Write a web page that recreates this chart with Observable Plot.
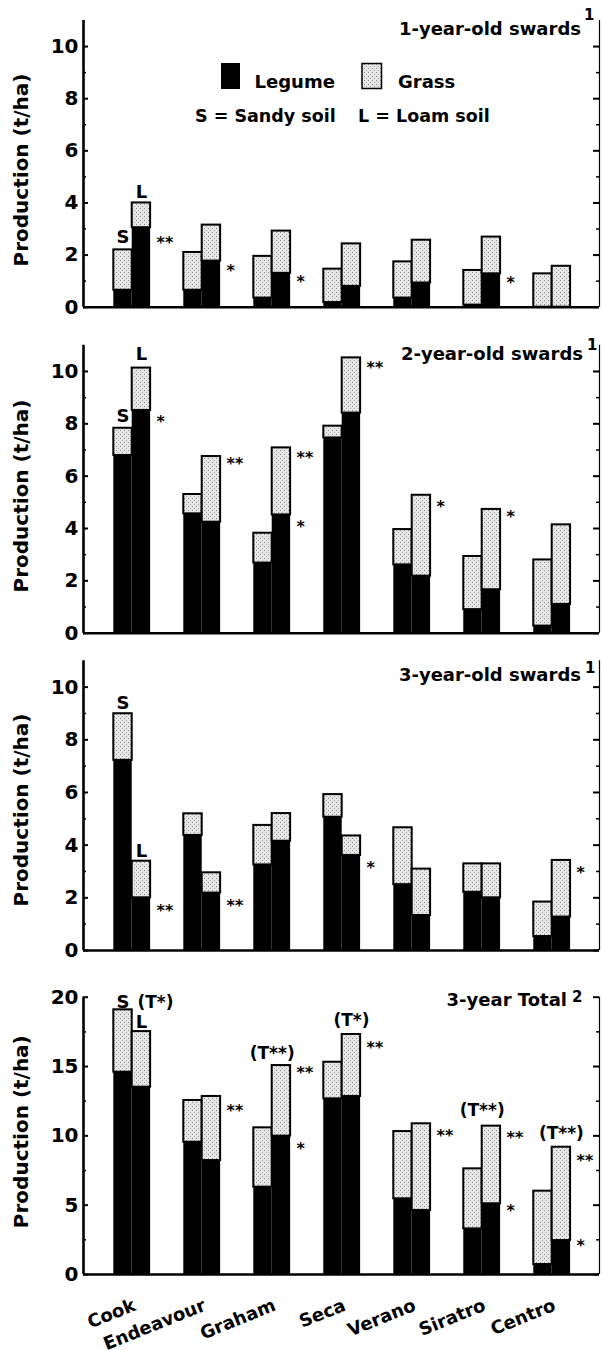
<!DOCTYPE html>
<html>
<head>
<meta charset="utf-8">
<script src="https://cdn.jsdelivr.net/npm/d3@7"></script>
<script src="https://cdn.jsdelivr.net/npm/@observablehq/plot@0.6"></script>
<style>
  body { margin: 0; background: #fff; }
  #chart { position: relative; width: 603px; height: 1350px; }
  #chart svg { display: block; overflow: visible; }
</style>
</head>
<body>
<svg width="0" height="0" style="position:absolute">
  <defs>
    <!-- light stipple used for the grass fraction -->
    <pattern id="stipple" width="4" height="4" patternUnits="userSpaceOnUse">
      <rect width="4" height="4" fill="#e6e6e6"></rect>
      <rect x="0" y="0" width="1" height="1" fill="#8c8c8c"></rect>
      <rect x="2" y="2" width="1" height="1" fill="#a8a8a8"></rect>
    </pattern>
  </defs>
</svg>
<div id="chart"></div>
<script>
const varieties = ["Cook", "Endeavour", "Graham", "Seca", "Verano", "Siratro", "Centro"];

// 1-year-old swards (t/ha): legume part and total (legume + grass), sandy and loam soil
const legumeSandy1 = [0.65, 0.65, 0.35, 0.18, 0.35, 0.08, 0];
const totalSandy1  = [2.2, 2.1, 1.95, 1.46, 1.74, 1.41, 1.28];
const legumeLoam1  = [3.05, 1.77, 1.3, 0.8, 0.93, 1.28, 0];
const totalLoam1   = [4.0, 3.15, 2.92, 2.43, 2.57, 2.69, 1.57];

// 2-year-old swards
const legumeSandy2 = [6.79, 4.56, 2.68, 7.46, 2.61, 0.9, 0.27];
const totalSandy2  = [7.83, 5.3, 3.82, 7.91, 3.96, 2.93, 2.8];
const legumeLoam2  = [8.51, 4.24, 4.52, 8.41, 2.18, 1.66, 1.1];
const totalLoam2   = [10.13, 6.75, 7.08, 10.52, 5.27, 4.73, 4.14];

// 3-year-old swards
const legumeSandy3 = [7.22, 4.37, 3.25, 5.06, 2.5, 2.21, 0.53];
const totalSandy3  = [8.99, 5.19, 4.75, 5.92, 4.66, 3.29, 1.84];
const legumeLoam3  = [2.0, 2.18, 4.15, 3.61, 1.33, 2.0, 1.27];
const totalLoam3   = [3.39, 2.95, 5.2, 4.35, 3.09, 3.29, 3.42];

// 3-year total
const legumeSandy4 = [14.59, 9.54, 6.3, 12.67, 5.46, 3.29, 0.72];
const totalSandy4  = [19.09, 12.55, 10.58, 15.31, 10.31, 7.62, 6.01];
const legumeLoam4  = [13.51, 8.22, 9.98, 12.84, 4.62, 5.1, 2.45];
const totalLoam4   = [17.52, 12.84, 15.07, 17.31, 10.87, 10.7, 9.18];

// significance marks beside each pair (height in t/ha)
const signif1 = [
  {variety: "Cook", y: 2.62, mark: "**"}, {variety: "Endeavour", y: 1.53, mark: "*"},
  {variety: "Graham", y: 1.09, mark: "*"}, {variety: "Siratro", y: 1.05, mark: "*"}
];
const signif2 = [
  {variety: "Cook", y: 8.19, mark: "*"}, {variety: "Endeavour", y: 6.6, mark: "**"},
  {variety: "Graham", y: 6.85, mark: "**"}, {variety: "Graham", y: 4.2, mark: "*"},
  {variety: "Seca", y: 10.27, mark: "**"}, {variety: "Verano", y: 4.97, mark: "*"},
  {variety: "Siratro", y: 4.56, mark: "*"}
];
const signif3 = [
  {variety: "Cook", y: 1.65, mark: "**"}, {variety: "Endeavour", y: 1.84, mark: "**"},
  {variety: "Seca", y: 3.27, mark: "*"}, {variety: "Centro", y: 3.08, mark: "*"}
];
const signif4 = [
  {variety: "Endeavour", y: 12.07, mark: "**"}, {variety: "Graham", y: 14.83, mark: "**"},
  {variety: "Graham", y: 9.3, mark: "*"}, {variety: "Seca", y: 16.59, mark: "**"},
  {variety: "Verano", y: 10.26, mark: "**"}, {variety: "Siratro", y: 10.14, mark: "**"},
  {variety: "Siratro", y: 4.86, mark: "*"}, {variety: "Centro", y: 8.46, mark: "**"},
  {variety: "Centro", y: 2.33, mark: "*"}
];
// soil-type letters over the Cook bars
const soil1 = [{variety: "Cook", soil: "S", y: 2.67}, {variety: "Cook", soil: "L", y: 4.4}];
const soil2 = [{variety: "Cook", soil: "S", y: 8.28}, {variety: "Cook", soil: "L", y: 10.65}];
const soil3 = [{variety: "Cook", soil: "S", y: 9.37}, {variety: "Cook", soil: "L", y: 3.76}];
const soil4 = [{variety: "Cook", soil: "S", y: 19.64}, {variety: "Cook", soil: "L", y: 18.2}];
// total-yield test results in the 3-year panel
const tests4 = [
  {variety: "Cook", y: 19.64, label: "(T*)", over: "L"},
  {variety: "Graham", y: 15.96, label: "(T**)", over: "pair"},
  {variety: "Seca", y: 18.3, label: "(T*)", over: "L"},
  {variety: "Siratro", y: 11.83, label: "(T**)", over: "pair"},
  {variety: "Centro", y: 10.14, label: "(T**)", over: "L"}
];

const W = 603, ML = 83, MR = 4;
const X_DOMAIN = [-0.696, 6.676];
const HALF = 0.263;                                   // width of one bar, in group units
const k = (W - ML - MR) / (X_DOMAIN[1] - X_DOMAIN[0]); // px per group unit
const idx = v => varieties.indexOf(v);
const barCenter = (v, soil) => idx(v) + (soil === "S" ? -HALF / 2 : HALF / 2);
const FONT = "'DejaVu Sans', 'Liberation Sans', sans-serif";

const panels = [
  {title: "1-year-old swards", sup: "1", legS: legumeSandy1, totS: totalSandy1, legL: legumeLoam1, totL: totalLoam1,
   signif: signif1, soil: soil1, tests: [], yMax: 11, major: [0, 2, 4, 6, 8, 10], minor: [1, 3, 5, 7, 9],
   height: 330, mt: 20, mb: 23.3, titlePos: [581, 35, 584, 20], labelY: 170},
  {title: "2-year-old swards", sup: "1", legS: legumeSandy2, totS: totalSandy2, legL: legumeLoam2, totL: totalLoam2,
   signif: signif2, soil: soil2, tests: [], yMax: 11, major: [0, 2, 4, 6, 8, 10], minor: [1, 3, 5, 7, 9],
   height: 320, mt: 14.8, mb: 17.3, titlePos: [583, 29.5, 587, 20], labelY: 166},
  {title: "3-year-old swards", sup: "1", legS: legumeSandy3, totS: totalSandy3, legL: legumeLoam3, totL: totalLoam3,
   signif: signif3, soil: soil3, tests: [], yMax: 11, major: [0, 2, 4, 6, 8, 10], minor: [1, 3, 5, 7, 9],
   height: 320, mt: 10.3, mb: 20, titlePos: [581, 31, 585, 22.5], labelY: 160},
  {title: "3-year Total", sup: "2", legS: legumeSandy4, totS: totalSandy4, legL: legumeLoam4, totL: totalLoam4,
   signif: signif4, soil: soil4, tests: tests4, yMax: 20, major: [0, 5, 10, 15, 20], minor: [2.5, 7.5, 12.5, 17.5],
   height: 380, mt: 26.7, mb: 76, titlePos: [567, 36, 572, 31.5], labelY: 161.7, xAxis: true}
];

const x1 = d => d.soil === "S" ? d.i - HALF : d.i;
const x2 = d => d.soil === "S" ? d.i : d.i + HALF;

function addText(sel, x, y, size, str, anchor = "start") {
  return sel.append("text").attr("x", x).attr("y", y).attr("text-anchor", anchor)
    .attr("font-family", FONT).attr("font-weight", "bold").attr("font-size", size).attr("fill", "#000").text(str);
}

function drawPanel(p) {
  const rows = varieties.flatMap((v, i) => [
    {variety: v, i, soil: "S", legume: p.legS[i], total: p.totS[i]},
    {variety: v, i, soil: "L", legume: p.legL[i], total: p.totL[i]}
  ]);
  const [a, b] = X_DOMAIN;
  const marks = [
    // stacked bars: legume (black) below grass (stippled)
    Plot.rect(rows, {x1, x2, y1: 0, y2: "legume", fill: "#000"}),
    Plot.rect(rows, {x1, x2, y1: "legume", y2: "total", fill: "url(#stipple)", stroke: "#000", strokeWidth: 2}),
    // frame with inward ticks on both sides
    Plot.ruleY([0], {stroke: "#000", strokeWidth: 2.5}),
    Plot.ruleX([a], {y1: 0, y2: p.yMax, stroke: "#000", strokeWidth: 2.6}),
    Plot.ruleX([b], {y1: 0, y2: p.yMax, stroke: "#000", strokeWidth: 1.2}),
    Plot.ruleY(p.major, {x1: a, x2: a + 5 / k, stroke: "#000", strokeWidth: 2}),
    Plot.ruleY(p.minor, {x1: a, x2: a + 3 / k, stroke: "#000", strokeWidth: 1.5}),
    Plot.ruleY(p.major, {x1: b - 6 / k, x2: b, stroke: "#000", strokeWidth: 2}),
    Plot.ruleY(p.minor, {x1: b - 3 / k, x2: b, stroke: "#000", strokeWidth: 1.5}),
    Plot.axisY({ticks: p.major, tickSize: 0, tickPadding: 5, fontSize: 20, label: null}),
    // annotations
    Plot.text(p.signif, {x: d => idx(d.variety) + HALF, y: "y", text: "mark", textAnchor: "start", dx: 6, dy: 3.5, fontSize: 16}),
    Plot.text(p.soil, {x: d => barCenter(d.variety, d.soil), y: "y", text: "soil", fontSize: 18}),
    Plot.text(p.tests.filter(d => d.variety !== "Cook"), {
      x: d => d.over === "pair" ? idx(d.variety) : barCenter(d.variety, "L"), y: "y", text: "label", fontSize: 17}),
    Plot.text(p.tests.filter(d => d.variety === "Cook"), {
      x: d => barCenter(d.variety, "L"), y: "y", text: "label", fontSize: 17, dx: 14})
  ];
  if (p.xAxis) {
    marks.push(Plot.axisX({ticks: d3.range(varieties.length), tickFormat: i => varieties[i], tickRotate: -22,
      tickSize: 0, tickPadding: 30, dx: 2.5, fontSize: 18, label: null}));
  }
  const svg = Plot.plot({
    width: W, height: p.height,
    marginLeft: ML, marginRight: MR, marginTop: p.mt, marginBottom: p.mb,
    x: p.xAxis ? {domain: X_DOMAIN} : {domain: X_DOMAIN, axis: null},
    y: {domain: [0, p.yMax]},
    style: {fontFamily: FONT, fontWeight: "bold", fontSize: "18px", color: "#000", background: "#fff", overflow: "visible"},
    marks
  });

  const s = d3.select(svg);
  // panel title with footnote marker
  const [tx, ty, sx, sy] = p.titlePos;
  addText(s, tx, ty, 18, p.title, "end");
  addText(s, sx, sy, 15, p.sup);
  // y-axis title
  addText(s, 0, 0, 20, "Production (t/ha)", "middle")
    .attr("transform", `translate(28,${p.labelY}) rotate(-90)`);
  return svg;
}

const chart = document.getElementById("chart");
panels.forEach((p, n) => {
  const svg = drawPanel(p);
  if (n === 0) {
    // legend inside the first panel
    const g = d3.select(svg).append("g");
    g.append("rect").attr("x", 221).attr("y", 63).attr("width", 19).attr("height", 26).attr("fill", "#000");
    addText(g, 254.5, 88, 18, "Legume");
    g.append("rect").attr("x", 362).attr("y", 63.5).attr("width", 19.5).attr("height", 25)
      .attr("fill", "url(#stipple)").attr("stroke", "#000").attr("stroke-width", 1.5);
    addText(g, 398, 88, 18, "Grass");
    addText(g, 195, 122, 17.5, "S = Sandy soil");
    addText(g, 358, 122, 17.5, "L = Loam soil");
  }
  chart.appendChild(svg);
});
</script>
</body>
</html>
